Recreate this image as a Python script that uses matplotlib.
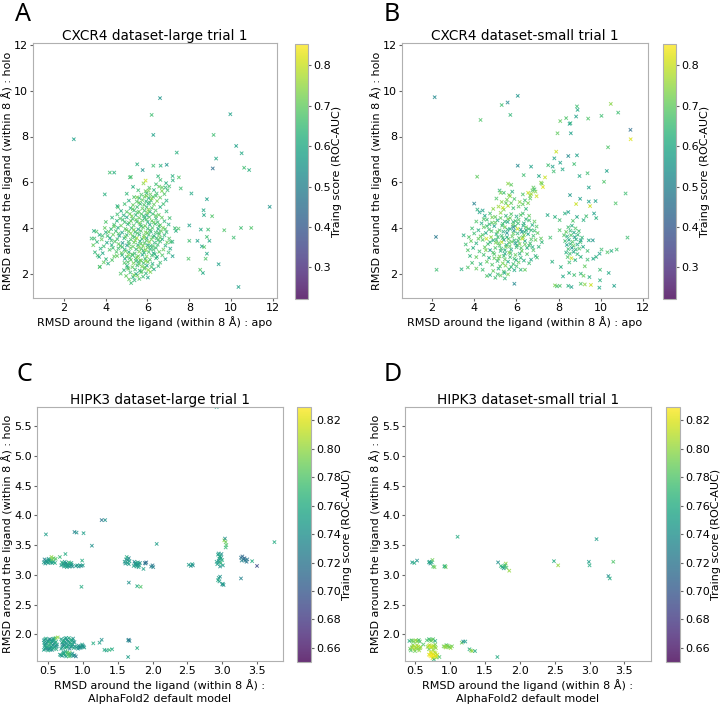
import matplotlib.pyplot as plt

# ---------------- data: (x, y, training score) ----------------
# CXCR4 dataset-large: dense core
a_core = [
    (5.22, 1.62, .66), (5.12, 1.78, .70), (5.38, 1.74, .64), (5.61, 1.80, .68),
    (4.98, 1.93, .70), (5.31, 1.88, .62), (5.52, 1.95, .72), (5.79, 1.90, .66), (6.02, 1.86, .60),
    (4.72, 2.03, .68), (5.18, 2.08, .66), (5.46, 2.02, .60), (5.69, 2.09, .70), (5.93, 2.04, .64), (6.14, 2.10, .72),
    (4.88, 2.18, .64), (5.09, 2.24, .70), (5.41, 2.21, .66), (5.63, 2.16, .62), (5.86, 2.25, .68), (6.04, 2.19, .74), (6.31, 2.22, .60),
    (3.72, 2.33, .66), (5.02, 2.37, .62), (5.28, 2.31, .70), (5.51, 2.39, .64), (5.74, 2.34, .72), (5.97, 2.38, .58), (6.19, 2.32, .68), (6.52, 2.36, .64),
    (3.91, 2.52, .70), (4.12, 2.47, .62), (5.06, 2.53, .68), (5.33, 2.48, .72), (5.57, 2.55, .60), (5.81, 2.49, .66), (6.02, 2.54, .70), (6.24, 2.46, .62), (6.61, 2.51, .66),
    (4.02, 2.66, .64), (4.31, 2.62, .68), (4.92, 2.68, .60), (5.21, 2.63, .70), (5.44, 2.69, .66), (5.66, 2.61, .72), (5.89, 2.67, .62), (6.12, 2.64, .68), (6.41, 2.70, .64), (6.86, 2.66, .60),
    (3.62, 2.82, .66), (4.41, 2.78, .70), (4.79, 2.84, .62), (5.01, 2.77, .68), (5.29, 2.83, .64), (5.56, 2.79, .70), (5.76, 2.85, .60), (5.96, 2.78, .72), (6.21, 2.82, .66), (6.46, 2.76, .62), (6.71, 2.83, .68),
    (3.49, 2.96, .64), (3.86, 2.92, .60), (4.52, 2.98, .68), (4.76, 2.93, .70), (5.11, 2.97, .62), (5.39, 2.91, .66), (5.61, 2.99, .72), (5.84, 2.94, .64), (6.06, 2.97, .68), (6.29, 2.92, .60), (6.56, 2.98, .70), (7.01, 2.95, .66),
    (3.76, 3.12, .62), (4.19, 3.07, .68), (4.61, 3.13, .66), (4.91, 3.08, .60), (5.19, 3.14, .70), (5.46, 3.09, .64), (5.71, 3.12, .68), (5.91, 3.06, .74), (6.14, 3.11, .62), (6.41, 3.15, .66), (6.76, 3.08, .70), (7.09, 3.12, .60),
    (3.41, 3.27, .70), (3.91, 3.22, .66), (4.29, 3.28, .62), (4.71, 3.23, .68), (5.02, 3.26, .56), (5.31, 3.21, .70), (5.54, 3.28, .64), (5.79, 3.24, .72), (6.01, 3.27, .60), (6.26, 3.22, .68), (6.49, 3.29, .66), (6.86, 3.25, .62),
    (3.59, 3.41, .64), (4.06, 3.38, .60), (4.44, 3.43, .68), (4.81, 3.37, .56), (5.09, 3.42, .66), (5.36, 3.39, .70), (5.64, 3.44, .62), (5.86, 3.36, .68), (6.09, 3.41, .74), (6.34, 3.38, .64), (6.61, 3.43, .66), (6.94, 3.39, .70), (7.19, 3.42, .62),
    (3.46, 3.56, .66), (3.81, 3.52, .70), (4.21, 3.58, .58), (4.56, 3.53, .66), (4.89, 3.57, .62), (5.21, 3.51, .68), (5.49, 3.58, .76), (5.74, 3.54, .64), (5.96, 3.57, .60), (6.19, 3.52, .70), (6.44, 3.58, .66), (6.71, 3.53, .62), (7.04, 3.56, .68),
    (3.71, 3.72, .62), (4.09, 3.67, .66), (4.36, 3.73, .70), (4.66, 3.68, .56), (5.01, 3.71, .64), (5.29, 3.66, .68), (5.61, 3.73, .62), (5.84, 3.69, .70), (6.06, 3.72, .66), (6.31, 3.67, .60), (6.56, 3.74, .68), (6.81, 3.70, .64),
    (3.56, 3.86, .68), (4.01, 3.83, .62), (4.49, 3.88, .66), (4.79, 3.82, .60), (5.11, 3.87, .70), (5.41, 3.84, .64), (5.69, 3.89, .68), (5.91, 3.83, .72), (6.16, 3.86, .62), (6.39, 3.82, .66), (6.66, 3.88, .70), (6.91, 3.84, .64),
    (3.96, 4.02, .70), (4.26, 3.97, .64), (4.59, 4.03, .62), (4.94, 3.98, .68), (5.24, 4.01, .66), (5.56, 3.96, .60), (5.79, 4.04, .70), (6.01, 3.99, .64), (6.24, 4.02, .68), (6.51, 3.97, .62), (6.74, 4.03, .72), (7.31, 4.01, .66),
    (4.41, 4.16, .66), (4.74, 4.12, .70), (5.06, 4.18, .62), (5.34, 4.13, .68), (5.66, 4.17, .64), (5.89, 4.11, .70), (6.11, 4.16, .60), (6.36, 4.19, .66), (6.61, 4.14, .70), (7.01, 4.17, .62),
    (4.01, 4.28, .68), (4.54, 4.33, .62), (4.91, 4.27, .66), (5.21, 4.32, .70), (5.49, 4.29, .64), (5.76, 4.34, .68), (6.01, 4.28, .62), (6.21, 4.33, .70), (6.49, 4.27, .66), (6.81, 4.31, .64),
    (4.31, 4.47, .64), (4.69, 4.43, .68), (5.01, 4.48, .60), (5.29, 4.42, .66), (5.61, 4.46, .70), (5.86, 4.44, .62), (6.09, 4.49, .68), (6.41, 4.43, .64), (6.69, 4.47, .70), (7.06, 4.45, .66),
    (4.56, 4.61, .66), (4.86, 4.57, .62), (5.16, 4.63, .70), (5.44, 4.58, .64), (5.71, 4.62, .68), (5.96, 4.57, .60), (6.26, 4.63, .66), (6.54, 4.59, .70),
    (4.74, 4.76, .62), (5.01, 4.72, .68), (5.36, 4.78, .64), (5.59, 4.73, .70), (5.86, 4.77, .66), (6.11, 4.72, .62), (6.39, 4.78, .68), (6.91, 4.74, .64),
    (4.59, 4.92, .68), (5.19, 4.88, .62), (5.51, 4.93, .66), (5.76, 4.87, .70), (5.96, 4.92, .64), (6.21, 4.89, .68), (6.61, 4.93, .62),
    (4.91, 5.06, .66), (5.31, 5.02, .70), (5.66, 5.07, .64), (5.84, 5.03, .68), (6.04, 5.08, .62), (6.31, 5.04, .70), (6.76, 5.06, .66),
    (5.11, 5.21, .62), (5.49, 5.17, .68), (5.76, 5.23, .70), (5.94, 5.18, .64), (6.16, 5.22, .66), (6.46, 5.19, .72), (6.91, 5.21, .62),
    (5.36, 5.36, .68), (5.61, 5.32, .64), (5.86, 5.38, .70), (6.06, 5.33, .62), (6.26, 5.37, .66), (6.61, 5.34, .70),
    (5.01, 5.51, .64), (5.71, 5.47, .68), (5.96, 5.53, .62), (6.14, 5.48, .70), (6.44, 5.52, .66), (6.81, 5.49, .68),
    (5.56, 5.66, .66), (5.91, 5.62, .70), (6.31, 5.67, .64), (6.69, 5.63, .72), (6.96, 5.66, .66),
    (5.31, 5.81, .62), (6.09, 5.77, .68), (6.56, 5.82, .70), (6.86, 5.78, .64), (7.04, 5.83, .66),
    (5.81, 5.96, .74), (6.41, 5.92, .66), (6.89, 5.97, .62), (5.91, 6.08, .80), (6.62, 6.11, .66),
    (7.21, 6.09, .62), (5.21, 6.24, .68), (6.51, 6.27, .64),
]
# CXCR4 dataset-large: extra points filling the densest part of the core
a_fill = [
    (5.35, 1.97, .72), (5.72, 2.13, .68), (5.05, 2.29, .66), (5.60, 2.44, .70), (5.92, 2.58, .74), (5.15, 2.71, .66),
    (5.50, 2.74, .72), (6.35, 2.88, .64), (4.95, 3.01, .70), (5.27, 2.87, .68), (5.80, 3.03, .66), (6.00, 3.17, .70),
    (5.58, 3.17, .72), (4.80, 3.19, .66), (5.13, 3.31, .68), (5.68, 3.33, .70), (6.15, 3.24, .64), (4.62, 3.32, .70),
    (5.42, 3.47, .72), (5.95, 3.47, .68), (6.50, 3.48, .66), (4.95, 3.63, .70), (5.38, 3.62, .66), (5.83, 3.60, .74),
    (6.25, 3.62, .68), (4.28, 3.47, .66), (5.20, 3.78, .72), (5.52, 3.79, .68), (6.00, 3.80, .70), (6.53, 3.81, .66),
    (4.62, 3.77, .68), (5.00, 3.93, .70), (5.35, 3.94, .72), (5.70, 4.09, .66), (6.12, 3.92, .68), (4.40, 4.08, .70),
    (5.12, 4.24, .68), (5.62, 4.24, .72), (6.30, 4.26, .70), (4.82, 4.38, .66), (5.45, 4.38, .70), (5.95, 4.39, .68),
    (5.25, 4.53, .72), (5.82, 4.54, .66), (6.40, 4.55, .70), (5.52, 4.69, .68), (6.00, 4.68, .72), (5.30, 4.84, .70),
    (6.05, 4.82, .74), (5.60, 5.12, .70), (6.10, 5.12, .66), (5.95, 5.42, .72), (6.40, 5.42, .68), (5.10, 2.86, .72),
    (5.70, 2.60, .70), (6.28, 3.08, .66), (5.45, 2.58, .66), (5.88, 2.30, .70), (4.55, 2.80, .70), (4.35, 3.15, .66),
    (4.90, 2.50, .68), (6.60, 3.60, .70), (6.55, 4.10, .66), (6.85, 3.97, .68), (4.15, 3.85, .70), (3.85, 3.68, .66),
    (6.20, 5.30, .74), (5.50, 5.35, .72), (6.70, 5.78, .70), (6.05, 5.65, .72),
]
# CXCR4 dataset-large: sparse points
a_sparse = [
    (2.48, 7.88, .58), (6.60, 9.67, .55), (6.20, 8.94, .66), (6.28, 8.07, .58), (9.96, 8.97, .58),
    (9.16, 8.07, .66), (10.24, 7.59, .58), (10.50, 7.27, .60), (9.28, 7.04, .60), (7.40, 7.30, .62),
    (9.12, 6.61, .45), (10.62, 6.64, .66), (10.86, 6.54, .62), (11.84, 4.94, .55), (8.10, 5.52, .60),
    (8.84, 5.27, .58), (8.68, 4.79, .60), (9.09, 4.53, .68), (8.70, 4.58, .60), (8.00, 4.13, .58),
    (8.55, 3.95, .60), (8.90, 3.95, .66), (9.67, 3.92, .68), (10.47, 4.02, .66), (10.96, 4.02, .68),
    (10.12, 3.60, .66), (8.39, 3.46, .58), (8.00, 3.46, .66), (8.84, 3.63, .66), (8.96, 3.46, .60),
    (8.60, 3.22, .58), (8.71, 3.19, .68), (8.84, 2.90, .60), (8.78, 2.68, .68), (7.96, 2.68, .68),
    (9.40, 2.44, .58), (8.52, 2.20, .68), (8.65, 2.06, .60), (10.35, 1.45, .58), (7.20, 2.79, .58),
    (7.11, 3.41, .66), (7.48, 3.99, .68), (7.36, 3.89, .62), (4.20, 6.43, .66), (4.41, 6.43, .62),
    (5.51, 6.79, .62), (5.77, 6.54, .55), (6.28, 6.73, .66), (6.63, 6.73, .62), (6.92, 6.77, .55),
    (3.96, 5.48, .62), (4.56, 4.97, .62), (5.16, 6.22, .66), (3.44, 3.89, .62), (3.33, 3.56, .66),
    (3.69, 2.76, .62), (3.72, 2.32, .68), (7.59, 5.74, .66), (7.20, 6.28, .62), (7.50, 6.22, .68),
]

# CXCR4 dataset-small: main cluster
b_core = [
    (5.00, 1.85, .66), (5.25, 1.95, .70), (5.45, 1.82, .64), (5.60, 2.00, .72), (4.60, 1.93, .68), (4.75, 1.97, .62),
    (4.40, 2.20, .66), (4.90, 2.15, .70), (5.15, 2.25, .62), (5.40, 2.12, .68), (5.65, 2.22, .66), (5.90, 2.18, .60),
    (6.20, 2.20, .64), (6.40, 2.20, .70), (3.40, 2.22, .62), (3.70, 2.30, .68), (4.10, 2.25, .70),
    (3.90, 2.50, .66), (4.30, 2.45, .62), (4.60, 2.55, .70), (4.85, 2.42, .68), (5.10, 2.58, .64), (5.35, 2.48, .72),
    (5.60, 2.55, .60), (5.85, 2.45, .66), (6.10, 2.52, .70), (6.35, 2.60, .62), (6.60, 2.48, .66),
    (3.80, 2.80, .64), (4.10, 2.75, .70), (4.45, 2.85, .66), (4.70, 2.72, .62), (4.95, 2.88, .68), (5.20, 2.78, .72),
    (5.45, 2.90, .60), (5.70, 2.75, .66), (5.95, 2.85, .70), (6.20, 2.72, .64), (6.50, 2.88, .68), (6.90, 2.80, .62),
    (3.70, 3.05, .68), (3.95, 3.15, .62), (4.25, 3.00, .66), (4.50, 3.18, .70), (4.75, 3.05, .56), (5.00, 3.15, .68),
    (5.25, 3.02, .64), (5.50, 3.20, .72), (5.75, 3.08, .60), (6.00, 3.18, .66), (6.25, 3.02, .70), (6.50, 3.15, .62),
    (6.80, 3.05, .68), (7.05, 3.20, .64),
    (3.60, 3.30, .66), (3.85, 3.45, .70), (4.10, 3.35, .62), (4.40, 3.50, .68), (4.65, 3.32, .66), (4.90, 3.48, .60),
    (5.15, 3.35, .70), (5.40, 3.50, .56), (5.65, 3.38, .68), (5.90, 3.48, .64), (6.15, 3.32, .72), (6.40, 3.45, .60),
    (6.65, 3.35, .66), (6.90, 3.50, .70), (7.20, 3.40, .64),
    (3.50, 3.70, .62), (3.75, 3.62, .68), (4.00, 3.78, .66), (4.30, 3.65, .70), (4.55, 3.80, .60), (4.80, 3.62, .74),
    (5.05, 3.75, .62), (5.30, 3.68, .66), (5.55, 3.80, .54), (5.80, 3.65, .70), (6.05, 3.78, .64), (6.30, 3.62, .68),
    (6.55, 3.75, .60), (6.80, 3.68, .66), (7.00, 3.80, .70),
    (3.90, 4.00, .66), (4.20, 3.92, .62), (4.45, 4.05, .70), (4.70, 3.95, .66), (4.95, 4.10, .58), (5.20, 3.92, .68),
    (5.45, 4.05, .72), (5.70, 3.98, .62), (5.95, 4.10, .66), (6.20, 3.95, .56), (6.45, 4.05, .70), (6.70, 3.92, .64),
    (6.95, 4.08, .68),
    (4.10, 4.30, .68), (4.35, 4.22, .62), (4.60, 4.38, .66), (4.85, 4.25, .70), (5.10, 4.35, .60), (5.35, 4.20, .66),
    (5.60, 4.40, .72), (5.85, 4.28, .64), (6.10, 4.38, .68), (6.35, 4.22, .62), (6.60, 4.35, .66), (6.85, 4.30, .70),
    (4.50, 4.55, .60), (4.75, 4.65, .66), (5.00, 4.50, .70), (5.25, 4.68, .74), (5.50, 4.55, .64), (5.75, 4.62, .68),
    (6.00, 4.52, .62), (6.30, 4.65, .66), (6.60, 4.55, .70), (4.25, 4.70, .58),
    (4.15, 4.82, .62), (4.40, 4.78, .58), (4.90, 4.85, .74), (5.15, 4.95, .76), (5.40, 4.82, .72), (5.60, 4.98, .78),
    (5.85, 4.88, .66), (6.10, 4.95, .70), (6.45, 4.85, .64), (4.00, 5.08, .50),
    (5.30, 5.15, .74), (5.55, 5.25, .72), (5.75, 5.10, .70), (5.90, 5.28, .68), (6.15, 5.15, .74), (6.40, 5.22, .66),
    (6.65, 5.30, .70), (5.05, 5.30, .68),
    (5.40, 5.55, .66), (5.65, 5.45, .72), (5.80, 5.60, .62), (6.30, 5.48, .68), (6.55, 5.55, .80), (6.75, 5.65, .70),
    (6.90, 5.60, .74), (6.85, 5.70, .66), (6.65, 5.42, .72), (5.75, 5.90, .70), (5.60, 5.95, .74), (5.20, 5.65, .64),
    (6.95, 5.40, .80), (7.25, 5.80, .82), (7.20, 5.95, .70),
    (5.12, 3.62, .66), (5.38, 3.86, .62), (5.62, 3.54, .70), (5.88, 3.90, .56), (6.12, 3.58, .68), (6.38, 3.84, .64),
    (5.02, 3.38, .72), (5.28, 3.12, .66), (5.52, 3.28, .62), (5.78, 3.42, .70), (6.02, 3.26, .64), (6.28, 3.55, .80),
    (5.32, 4.12, .66), (5.58, 4.28, .60), (5.82, 4.16, .70), (6.08, 4.22, .66), (6.32, 4.12, .62), (4.82, 3.88, .68),
    (4.58, 3.55, .80), (4.72, 4.18, .64), (6.58, 3.98, .66), (6.75, 4.15, .62), (5.45, 2.65, .70), (5.72, 2.92, .66),
    (5.98, 2.62, .62), (5.22, 2.35, .68), (5.48, 2.38, .72), (5.75, 2.32, .64), (6.00, 2.35, .66), (4.95, 2.70, .70),
]
# CXCR4 dataset-small: extra points filling the densest part of the main cluster
b_fill = [
    (5.10, 3.85, .70), (5.35, 3.58, .66), (5.58, 3.95, .62), (5.85, 3.78, .70), (6.08, 3.45, .66), (6.35, 3.70, .72),
    (6.60, 3.25, .66), (5.20, 3.25, .68), (5.45, 3.05, .62), (5.68, 3.22, .70), (5.95, 3.35, .56), (6.22, 3.15, .68),
    (6.45, 3.92, .62), (5.70, 4.45, .70), (5.95, 4.32, .66), (6.20, 4.58, .68), (6.45, 4.40, .64), (5.25, 4.45, .70),
    (4.85, 4.48, .72), (4.60, 4.10, .66), (4.40, 3.72, .68), (4.20, 3.55, .70), (4.75, 3.40, .64), (4.55, 3.05, .72),
    (4.90, 2.95, .68), (5.15, 2.68, .70), (5.40, 2.80, .66), (5.65, 2.95, .72), (5.90, 2.68, .66), (6.15, 2.90, .62),
    (6.40, 3.30, .70), (6.70, 3.52, .68), (6.85, 3.90, .66), (5.00, 4.25, .70), (5.45, 4.30, .64), (4.45, 4.40, .68),
    (6.05, 3.98, .80), (5.30, 3.40, .78), (5.85, 4.05, .52), (6.25, 3.85, .56), (5.55, 3.62, .62), (5.05, 3.50, .66),
    (6.30, 5.05, .70), (6.55, 5.10, .72), (6.70, 5.50, .76), (5.50, 5.10, .70), (5.35, 4.90, .80), (5.70, 5.40, .74),
    (5.25, 5.55, .72), (6.80, 5.78, .70),
]
# CXCR4 dataset-small: right-hand cluster around (8.6, 3.3)
b_right = [
    (8.45, 4.05, .66), (8.62, 4.12, .62), (8.79, 4.00, .68), (8.35, 3.85, .70), (8.55, 3.90, .64), (8.72, 3.82, .60),
    (8.95, 3.88, .66), (8.40, 3.65, .62), (8.58, 3.70, .68), (8.75, 3.62, .56), (8.90, 3.72, .64), (8.30, 3.45, .66),
    (8.48, 3.50, .60), (8.65, 3.42, .68), (8.82, 3.52, .62), (9.02, 3.40, .66), (8.38, 3.28, .58), (8.55, 3.32, .64),
    (8.70, 3.25, .70), (8.88, 3.30, .60), (8.45, 3.10, .66), (8.62, 3.15, .56), (8.80, 3.08, .64), (8.97, 3.12, .68),
    (8.35, 2.95, .62), (8.52, 2.90, .66), (8.70, 2.98, .60), (8.88, 2.88, .64), (8.42, 2.75, .68), (8.60, 2.70, .80),
    (8.78, 2.62, .62), (8.50, 2.52, .66), (9.10, 3.60, .64), (9.15, 3.20, .60), (8.25, 3.70, .68),
]
# CXCR4 dataset-small: sparse points
b_sparse = [
    (2.13, 9.71, .52), (2.19, 3.63, .48), (2.22, 2.20, .66), (6.06, 9.77, .55), (5.58, 9.48, .52),
    (5.30, 9.37, .66), (5.71, 8.94, .64), (4.30, 8.72, .68), (4.14, 6.25, .70), (6.06, 6.73, .52),
    (6.69, 6.69, .58), (6.34, 6.32, .66), (7.06, 6.28, .60), (7.35, 6.22, .80), (7.16, 5.99, .74),
    (7.71, 6.69, .58), (7.76, 6.48, .66), (7.50, 6.75, .66), (7.79, 7.05, .58), (7.88, 7.34, .80),
    (8.07, 6.86, .58), (8.18, 6.57, .60), (8.45, 7.15, .52), (8.73, 6.80, .66), (8.86, 7.18, .58),
    (8.98, 6.28, .60), (9.36, 6.40, .66), (9.42, 5.78, .58), (9.01, 5.29, .58), (8.53, 5.45, .56),
    (8.82, 5.06, .80), (9.42, 5.17, .58), (9.74, 5.19, .58), (9.48, 4.97, .80), (10.14, 6.03, .68),
    (10.27, 6.50, .58), (10.69, 5.09, .68), (11.16, 5.52, .66), (11.25, 3.60, .66), (11.39, 8.29, .45),
    (11.40, 7.88, .82), (10.81, 9.04, .66), (10.46, 9.42, .74), (10.02, 8.90, .66), (9.39, 8.78, .68),
    (8.86, 9.31, .66), (8.89, 9.16, .60), (8.82, 8.87, .58), (8.35, 8.80, .68), (8.07, 8.67, .70),
    (8.51, 8.55, .58), (8.55, 8.58, .62), (8.57, 8.14, .58), (7.94, 8.14, .70), (10.33, 7.53, .68),
    (7.91, 1.48, .66), (7.82, 1.52, .72), (8.05, 1.50, .68), (8.60, 1.45, .58), (8.45, 1.50, .62),
    (9.04, 2.03, .64), (9.04, 1.59, .68), (9.23, 1.56, .74), (9.92, 1.42, .60), (10.62, 1.50, .58),
    (9.95, 1.74, .62), (10.36, 2.06, .60), (9.95, 2.20, .66), (9.45, 1.88, .62), (9.17, 1.94, .70),
    (5.90, 1.59, .52), (5.43, 2.06, .60), (5.11, 2.00, .66), (9.04, 2.76, .62), (9.36, 2.64, .66),
    (9.63, 2.68, .60), (9.77, 2.76, .62), (9.93, 2.90, .58), (10.02, 3.08, .66), (10.30, 2.96, .68),
    (10.49, 3.02, .62), (10.74, 3.08, .66), (9.04, 3.48, .58), (9.42, 3.48, .60), (9.61, 3.48, .55),
    (9.36, 3.02, .66), (9.67, 4.65, .58), (9.17, 4.36, .62), (8.86, 4.50, .60), (9.30, 4.53, .66),
    (9.77, 4.45, .62), (8.67, 4.33, .68), (8.29, 4.65, .62), (8.45, 4.71, .58), (8.04, 4.36, .66),
    (7.82, 4.50, .62), (7.47, 4.58, .60), (8.04, 3.92, .68), (8.10, 2.32, .62), (8.20, 1.91, .60),
    (8.49, 2.06, .62), (8.73, 1.97, .66), (9.23, 2.35, .70), (7.69, 2.55, .62), (7.60, 3.60, .66),
    (7.16, 3.56, .70), (6.76, 3.19, .62), (6.97, 2.73, .66), (6.69, 2.64, .60), (9.52, 1.54, .80),
]

# HIPK3 dataset-large
c_low = [
    (0.44, 1.74, .75), (0.47, 1.78, .74), (0.50, 1.73, .76), (0.53, 1.77, .75), (0.56, 1.74, .73), (0.59, 1.78, .75), (0.62, 1.75, .76),
    (0.45, 1.82, .75), (0.48, 1.86, .73), (0.51, 1.81, .76), (0.54, 1.85, .75), (0.57, 1.82, .74), (0.60, 1.86, .76), (0.63, 1.83, .75),
    (0.44, 1.90, .74), (0.47, 1.93, .76), (0.50, 1.89, .75), (0.53, 1.92, .73), (0.56, 1.90, .75), (0.59, 1.93, .77),
    (0.46, 1.80, .75), (0.55, 1.79, .74), (0.52, 1.88, .76), (0.58, 1.90, .75), (0.49, 1.76, .73), (0.61, 1.94, .79), (0.64, 1.95, .80),
    (0.69, 1.76, .75), (0.72, 1.80, .74), (0.75, 1.77, .76), (0.78, 1.81, .75), (0.81, 1.76, .73), (0.84, 1.80, .75), (0.87, 1.77, .76),
    (0.70, 1.86, .75), (0.73, 1.90, .76), (0.76, 1.85, .74), (0.79, 1.89, .75), (0.82, 1.86, .77), (0.85, 1.90, .75), (0.88, 1.87, .74),
    (0.74, 1.93, .75), (0.80, 1.94, .76), (0.86, 1.93, .74), (0.71, 1.83, .73), (0.83, 1.83, .76), (0.77, 1.79, .75),
    (0.67, 1.66, .75), (0.70, 1.64, .74), (0.73, 1.68, .76), (0.76, 1.63, .75), (0.79, 1.67, .78), (0.82, 1.64, .75),
    (0.85, 1.68, .74), (0.88, 1.65, .73), (0.72, 1.70, .75), (0.78, 1.70, .76), (0.81, 1.69, .79), (0.90, 1.63, .72),
    (0.91, 1.78, .75), (0.94, 1.81, .74), (0.97, 1.78, .75), (1.00, 1.81, .73), (1.02, 1.78, .75), (0.93, 1.76, .74),
    (0.99, 1.83, .75), (0.96, 1.79, .72),
    (1.15, 1.85, .76), (1.24, 1.86, .75), (1.27, 1.91, .74), (1.31, 1.74, .76), (1.34, 1.73, .75), (1.38, 1.74, .77),
    (1.42, 1.75, .76), (1.65, 1.90, .74), (1.67, 1.89, .73), (1.66, 1.91, .72), (1.78, 1.77, .76), (1.65, 1.62, .75),
]
c_mid = [
    (0.44, 3.21, .75), (0.47, 3.24, .74), (0.50, 3.20, .75), (0.53, 3.23, .76), (0.56, 3.20, .75), (0.45, 3.26, .73),
    (0.49, 3.22, .75), (0.52, 3.25, .74), (0.55, 3.24, .76), (0.58, 3.22, .75), (0.46, 3.19, .74), (0.51, 3.27, .75),
    (0.55, 3.30, .80), (0.58, 3.28, .79), (0.61, 3.27, .78), (0.56, 3.26, .79), (0.60, 3.20, .76), (0.67, 3.30, .77),
    (0.75, 3.35, .76),
    (0.69, 3.16, .75), (0.72, 3.19, .74), (0.75, 3.15, .76), (0.78, 3.18, .75), (0.81, 3.14, .74), (0.84, 3.17, .75),
    (0.70, 3.21, .76), (0.73, 3.14, .75), (0.76, 3.20, .73), (0.79, 3.15, .75), (0.82, 3.19, .76), (0.85, 3.14, .74),
    (0.74, 3.22, .75), (0.80, 3.21, .77), (0.77, 3.13, .75), (0.83, 3.16, .74),
    (0.90, 3.15, .74), (0.92, 3.16, .75), (0.94, 3.14, .74), (0.96, 3.16, .75), (0.98, 3.15, .73), (1.00, 3.16, .75),
    (0.99, 3.24, .76), (0.98, 2.80, .76), (1.01, 3.70, .75), (0.88, 3.72, .73), (0.91, 3.71, .74), (0.47, 3.68, .75),
    (1.13, 3.49, .74), (1.27, 3.92, .72), (1.32, 3.92, .74), (2.06, 3.52, .75), (1.66, 2.87, .74), (1.78, 2.81, .76),
    (1.83, 2.80, .78), (1.87, 3.10, .75),
    (1.60, 3.22, .75), (1.62, 3.26, .74), (1.64, 3.20, .75), (1.66, 3.28, .73), (1.67, 3.23, .75), (1.63, 3.30, .76),
    (1.61, 3.19, .74), (1.66, 3.18, .75),
    (1.73, 3.15, .75), (1.75, 3.19, .74), (1.77, 3.14, .75), (1.79, 3.21, .76), (1.81, 3.16, .75), (1.74, 3.22, .73),
    (1.78, 3.17, .74), (1.80, 3.13, .75), (1.76, 3.20, .75), (1.82, 3.20, .74),
    (1.89, 3.20, .72), (1.91, 3.21, .71), (1.90, 3.19, .72), (1.98, 3.14, .73), (2.00, 3.16, .72), (2.01, 3.13, .73),
    (2.52, 3.17, .75), (2.55, 3.15, .74), (2.57, 3.18, .75), (2.58, 3.16, .74),
    (2.93, 3.18, .75), (2.95, 3.24, .74), (2.97, 3.30, .76), (2.94, 3.34, .75), (2.98, 3.20, .77), (2.96, 3.27, .75),
    (2.99, 3.35, .74), (2.92, 3.22, .75), (3.00, 3.25, .76), (3.01, 3.16, .75), (2.97, 3.14, .74), (2.95, 3.36, .75),
    (2.94, 2.91, .76), (2.95, 2.95, .75), (2.97, 2.97, .74), (2.96, 2.89, .75), (3.00, 2.84, .73), (3.02, 2.83, .74),
    (3.01, 2.85, .75),
    (3.03, 3.58, .80), (3.05, 3.55, .79), (3.04, 3.61, .74), (3.06, 3.50, .78), (3.05, 3.46, .77),
    (3.27, 3.29, .72), (3.29, 3.31, .71), (3.31, 3.26, .72), (3.33, 3.24, .73), (3.35, 3.22, .72), (3.28, 3.24, .73),
    (3.32, 3.28, .71), (3.36, 3.26, .72),
    (3.43, 3.23, .76), (3.50, 3.15, .69), (3.27, 2.94, .73), (3.75, 3.55, .76), (2.92, 5.82, .75),
]
# HIPK3 dataset-large: extra points inside the tight blobs
c_fill = [
    (0.455, 1.755, .75), (0.485, 1.795, .76), (0.515, 1.755, .74), (0.545, 1.795, .75), (0.575, 1.765, .76),
    (0.605, 1.805, .75), (0.465, 1.845, .74), (0.495, 1.875, .75), (0.525, 1.845, .77), (0.555, 1.875, .75),
    (0.585, 1.845, .74), (0.615, 1.875, .76), (0.455, 1.915, .75), (0.515, 1.915, .74), (0.575, 1.925, .75),
    (0.625, 1.800, .74), (0.445, 1.860, .75), (0.535, 1.740, .75),
    (0.705, 1.780, .75), (0.735, 1.820, .74), (0.765, 1.790, .76), (0.795, 1.830, .75), (0.825, 1.790, .74),
    (0.855, 1.830, .75), (0.715, 1.875, .76), (0.745, 1.870, .75), (0.775, 1.910, .74), (0.805, 1.875, .75),
    (0.835, 1.910, .76), (0.865, 1.875, .75), (0.690, 1.920, .75), (0.880, 1.800, .74), (0.760, 1.940, .75),
    (0.685, 1.650, .75), (0.715, 1.670, .76), (0.745, 1.650, .75), (0.775, 1.690, .79), (0.805, 1.660, .77),
    (0.835, 1.660, .75), (0.865, 1.640, .74), (0.750, 1.710, .76), (0.800, 1.630, .78),
    (0.925, 1.795, .75), (0.955, 1.770, .74), (0.985, 1.800, .75), (1.010, 1.795, .74),
    (0.475, 3.215, .75), (0.505, 3.245, .76), (0.535, 3.205, .75), (0.715, 3.175, .75), (0.745, 3.185, .76),
    (0.775, 3.160, .74), (0.805, 3.175, .75), (0.835, 3.200, .75), (1.645, 3.245, .75), (1.760, 3.165, .74),
    (1.795, 3.185, .75), (2.955, 3.210, .75), (2.965, 3.310, .76), (2.985, 3.285, .74),
]

# HIPK3 dataset-small
d_low = [
    (0.42, 1.89, .76), (0.45, 1.90, .78), (0.48, 1.88, .79), (0.51, 1.90, .80), (0.54, 1.89, .79), (0.57, 1.88, .78),
    (0.43, 1.76, .79), (0.46, 1.79, .80), (0.49, 1.75, .81), (0.52, 1.78, .80), (0.55, 1.76, .79), (0.58, 1.79, .80),
    (0.44, 1.73, .78), (0.50, 1.72, .79), (0.56, 1.73, .80), (0.47, 1.82, .79), (0.53, 1.82, .80), (0.62, 1.83, .78),
    (0.67, 1.90, .78), (0.70, 1.92, .77), (0.73, 1.89, .79), (0.76, 1.92, .78), (0.79, 1.89, .76),
    (0.68, 1.79, .80), (0.71, 1.82, .81), (0.74, 1.78, .80), (0.77, 1.81, .81), (0.80, 1.77, .80), (0.70, 1.75, .79),
    (0.76, 1.74, .80), (0.79, 1.83, .79),
    (0.70, 1.66, .82), (0.73, 1.63, .83), (0.76, 1.67, .82), (0.79, 1.64, .82), (0.82, 1.66, .81), (0.72, 1.70, .82),
    (0.78, 1.70, .81), (0.75, 1.60, .82), (0.81, 1.61, .80), (0.85, 1.62, .78), (0.77, 1.58, .76),
    (0.91, 1.80, .79), (0.94, 1.78, .80), (0.97, 1.81, .79), (1.00, 1.79, .80), (1.03, 1.80, .79), (0.95, 1.82, .78),
    (1.01, 1.77, .80),
    (1.17, 1.86, .79), (1.19, 1.88, .74), (1.22, 1.88, .75), (1.28, 1.75, .76), (1.30, 1.73, .79), (1.32, 1.72, .80),
    (1.36, 1.72, .76), (1.68, 1.62, .76),
]
d_fill = [
    (0.455, 1.775, .80), (0.485, 1.800, .81), (0.515, 1.765, .80), (0.545, 1.795, .81), (0.575, 1.770, .80),
    (0.465, 1.895, .79), (0.525, 1.885, .80), (0.555, 1.905, .78),
    (0.695, 1.805, .81), (0.725, 1.790, .82), (0.755, 1.800, .81), (0.785, 1.790, .80), (0.715, 1.910, .78),
    (0.745, 1.905, .79),
    (0.715, 1.645, .83), (0.745, 1.650, .83), (0.775, 1.655, .83), (0.805, 1.635, .82), (0.735, 1.685, .82),
    (0.765, 1.615, .82), (0.795, 1.685, .81),
    (0.925, 1.795, .80), (0.955, 1.800, .80), (0.985, 1.790, .79),
]
d_mid = [
    (0.46, 3.21, .75), (0.49, 3.20, .76), (0.53, 3.24, .74), (0.70, 3.21, .76), (0.72, 3.19, .74), (0.75, 3.25, .79),
    (0.71, 3.22, .75), (0.74, 3.21, .76), (0.76, 3.14, .78), (0.78, 3.13, .79), (0.93, 3.15, .78), (0.94, 3.13, .79),
    (0.92, 3.14, .76), (1.11, 3.64, .76), (1.69, 3.21, .74), (1.73, 3.15, .77), (1.75, 3.13, .76), (1.78, 3.14, .78),
    (1.80, 3.19, .80), (1.81, 3.12, .78), (1.79, 3.16, .77), (1.77, 3.11, .75), (1.85, 3.07, .80), (2.49, 3.23, .76),
    (2.55, 3.16, .80), (2.99, 3.22, .75), (3.00, 3.16, .76), (3.10, 3.60, .75), (3.27, 2.98, .74), (3.29, 2.94, .76),
    (3.34, 3.22, .78),
]

cxcr4_xlabel = "RMSD around the ligand (within 8 Å) : apo"
hipk3_xlabel = "RMSD around the ligand (within 8 Å) :\nAlphaFold2 default model"
ylabel = "RMSD around the ligand (within 8 Å) : holo"
cbar_label = "Traing score (ROC-AUC)"

panels = [
    dict(letter="A", title="CXCR4 dataset-large trial 1", pts=a_core + a_fill + a_sparse,
         ax=(33, 43, 277, 298), cax=(295, 44, 308, 299), letter_xy=(15, 21),
         xlim=(0.53, 12.19), ylim=(0.97, 12.07), xticks=range(2, 13, 2), yticks=range(2, 13, 2),
         vmin=0.222, vmax=0.853, cticks=[0.3, 0.4, 0.5, 0.6, 0.7, 0.8], xlabel=cxcr4_xlabel, fmt="{:.1f}"),
    dict(letter="B", title="CXCR4 dataset-small trial 1", pts=b_core + b_fill + b_right + b_sparse,
         ax=(402, 43, 648, 298), cax=(663, 44, 676, 299), letter_xy=(384, 21),
         xlim=(0.585, 12.22), ylim=(0.97, 12.07), xticks=range(2, 13, 2), yticks=range(2, 13, 2),
         vmin=0.222, vmax=0.853, cticks=[0.3, 0.4, 0.5, 0.6, 0.7, 0.8], xlabel=cxcr4_xlabel, fmt="{:.1f}"),
    dict(letter="C", title="HIPK3 dataset-large trial 1", pts=c_low + c_fill + c_mid,
         ax=(37, 407, 283, 661), cax=(297, 407, 311, 662), letter_xy=(16, 381),
         xlim=(0.342, 3.873), ylim=(1.553, 5.82), xticks=[0.5, 1, 1.5, 2, 2.5, 3, 3.5],
         yticks=[2, 2.5, 3, 3.5, 4, 4.5, 5, 5.5],
         vmin=0.650, vmax=0.8294, cticks=[0.66, 0.68, 0.70, 0.72, 0.74, 0.76, 0.78, 0.80, 0.82],
         xlabel=hipk3_xlabel, fmt="{:.2f}"),
    dict(letter="D", title="HIPK3 dataset-small trial 1", pts=d_low + d_fill + d_mid,
         ax=(405, 407, 651, 661), cax=(666, 407, 680, 662), letter_xy=(384, 381),
         xlim=(0.357, 3.88), ylim=(1.553, 5.82), xticks=[0.5, 1, 1.5, 2, 2.5, 3, 3.5],
         yticks=[2, 2.5, 3, 3.5, 4, 4.5, 5, 5.5],
         vmin=0.650, vmax=0.8294, cticks=[0.66, 0.68, 0.70, 0.72, 0.74, 0.76, 0.78, 0.80, 0.82],
         xlabel=hipk3_xlabel, fmt="{:.2f}"),
]

W, H = 722, 704
FS = 8
EDGE = "#b0b0b0"


def box(left, top, right, bottom):
    # pixel box -> figure fraction [left, bottom, width, height]
    return [left / W, 1 - bottom / H, (right - left) / W, (bottom - top) / H]


fig = plt.figure(figsize=(W / 100, H / 100), dpi=100)

for p in panels:
    ax = fig.add_axes(box(*p["ax"]))
    cax = fig.add_axes(box(*p["cax"]))
    xs, ys, cs = zip(*p["pts"])
    sc = ax.scatter(xs, ys, c=cs, cmap="viridis", vmin=p["vmin"], vmax=p["vmax"],
                    marker="x", s=6, linewidths=0.7, alpha=0.8)
    ax.set_xlim(*p["xlim"])
    ax.set_ylim(*p["ylim"])
    ax.set_xticks(list(p["xticks"]))
    ax.set_yticks(list(p["yticks"]))
    if p["fmt"] == "{:.2f}":
        ax.set_xticklabels([f"{t:.1f}" for t in p["xticks"]])
        ax.set_yticklabels([f"{t:.1f}" for t in p["yticks"]])
    ax.tick_params(labelsize=FS, length=2, pad=1.5, color="#666666")
    for sp in ax.spines.values():
        sp.set_edgecolor(EDGE)
    ax.set_title(p["title"], fontsize=9.8, pad=2.5)
    ax.set_xlabel(p["xlabel"], fontsize=FS, labelpad=2, linespacing=1.4)
    ax.set_ylabel(ylabel, fontsize=FS, labelpad=1)

    cb = fig.colorbar(sc, cax=cax)
    cb.set_ticks(p["cticks"])
    cb.set_ticklabels([p["fmt"].format(t) for t in p["cticks"]])
    cb.outline.set_edgecolor(EDGE)
    cb.ax.tick_params(labelsize=FS, length=2, pad=1.5, color="#666666")
    cb.set_label(cbar_label, fontsize=FS, labelpad=1)

    lx, ly = p["letter_xy"]
    fig.text(lx / W, 1 - ly / H, p["letter"], fontsize=18, family=["Noto Sans", "DejaVu Sans"],
             ha="left", va="baseline")

fig.savefig("out.png", dpi=100)
